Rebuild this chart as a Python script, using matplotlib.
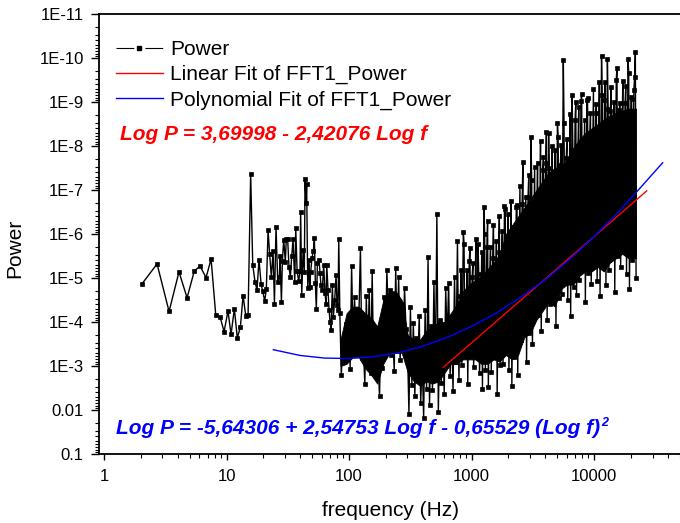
import numpy as np
import matplotlib
matplotlib.use('Agg')
import matplotlib.pyplot as plt
from matplotlib.lines import Line2D
from matplotlib.ticker import LogLocator, NullFormatter

plt.rcParams['font.family'] = ['Liberation Sans', 'DejaVu Sans']

# Power spectrum, low frequency part (log10 f, log10 P) read point by point
sparse_logf = [0.308, 0.433, 0.531, 0.612, 0.678, 0.737, 0.784, 0.833, 0.874, 0.912,
               0.947, 0.980, 1.012, 1.037, 1.064, 1.088, 1.113, 1.135, 1.157, 1.176,
               1.197, 1.214, 1.233, 1.249, 1.265, 1.282, 1.295, 1.312, 1.325, 1.339,
               1.352, 1.366, 1.380, 1.391, 1.404, 1.418, 1.431, 1.437, 1.448, 1.456,
               1.467, 1.480, 1.488, 1.499, 1.510, 1.521, 1.532, 1.543, 1.557, 1.565,
               1.576, 1.589, 1.600, 1.605, 1.614, 1.625, 1.635, 1.641, 1.649, 1.654,
               1.663, 1.674, 1.679, 1.687, 1.698, 1.709, 1.717, 1.725, 1.733, 1.742,
               1.755, 1.763, 1.771, 1.782, 1.793, 1.804, 1.812, 1.818, 1.829, 1.837,
               1.845, 1.853, 1.864, 1.872, 1.883, 1.894, 1.902, 1.910, 1.916]
sparse_logp = [-4.86, -5.32, -4.24, -5.14, -4.55, -5.16, -5.27, -5.01, -5.43, -4.16,
               -4.12, -3.78, -4.25, -3.72, -4.30, -3.64, -3.88, -4.60, -4.14, -4.17,
               -7.36, -5.30, -4.90, -4.73, -5.42, -4.87, -4.70, -4.48, -4.75, -6.09,
               -5.54, -5.02, -5.61, -4.41, -6.17, -4.90, -5.02, -5.49, -4.46, -5.39,
               -5.87, -5.37, -5.89, -5.89, -5.24, -5.02, -5.49, -5.88, -4.90, -6.14,
               -5.15, -4.93, -5.16, -6.51, -4.61, -5.64, -5.14, -7.24, -6.71, -7.13,
               -4.77, -5.42, -4.80, -5.14, -5.46, -5.62, -5.92, -4.88, -4.29, -5.35,
               -5.41, -5.11, -4.84, -4.73, -5.30, -4.65, -4.42, -5.30, -4.73, -4.27,
               -4.01, -3.82, -4.84, -4.12, -4.50, -5.07, -4.39, -4.27, -5.89]

# dense band above ~85 Hz (log10 f, log10 P), top / bottom excursions
band_logf = [1.925, 1.937, 1.949, 1.961, 1.973, 1.985, 1.997, 2.009, 2.021, 2.033,
             2.045, 2.057, 2.069, 2.081, 2.093, 2.105, 2.117, 2.129, 2.141, 2.153,
             2.165, 2.177, 2.189, 2.201, 2.213, 2.225, 2.237, 2.249, 2.261, 2.273,
             2.285, 2.297, 2.309, 2.321, 2.333, 2.345, 2.357, 2.369, 2.381, 2.393,
             2.405, 2.417, 2.429, 2.441, 2.453, 2.465, 2.477, 2.489, 2.501, 2.513,
             2.525, 2.537, 2.549, 2.561, 2.573, 2.585, 2.597, 2.609, 2.621, 2.633,
             2.645, 2.657, 2.669, 2.681, 2.693, 2.705, 2.717, 2.729, 2.741, 2.753,
             2.765, 2.777, 2.789, 2.801, 2.813, 2.825, 2.837, 2.849, 2.861, 2.873,
             2.885, 2.897, 2.909, 2.921, 2.933, 2.945, 2.957, 2.969, 2.981, 2.993,
             3.005, 3.017, 3.029, 3.041, 3.053, 3.065, 3.077, 3.089, 3.101, 3.113,
             3.125, 3.137, 3.149, 3.161, 3.173, 3.185, 3.197, 3.209, 3.221, 3.233,
             3.245, 3.257, 3.269, 3.281, 3.293, 3.305, 3.317, 3.329, 3.341, 3.353,
             3.365, 3.377, 3.389, 3.401, 3.413, 3.425, 3.437, 3.449, 3.461, 3.473,
             3.485, 3.497, 3.509, 3.521, 3.533, 3.545, 3.557, 3.569, 3.581, 3.593,
             3.605, 3.617, 3.629, 3.641, 3.653, 3.665, 3.677, 3.689, 3.701, 3.713,
             3.725, 3.737, 3.749, 3.761, 3.773, 3.785, 3.797, 3.809, 3.821, 3.833,
             3.845, 3.857, 3.869, 3.881, 3.893, 3.905, 3.917, 3.929, 3.941, 3.953,
             3.965, 3.977, 3.989, 4.001, 4.013, 4.025, 4.037, 4.049, 4.061, 4.073,
             4.085, 4.097, 4.109, 4.121, 4.133, 4.145, 4.157, 4.169, 4.181, 4.193,
             4.205, 4.217, 4.229, 4.241, 4.253, 4.265, 4.277, 4.289, 4.301, 4.313,
             4.325, 4.337, 4.343]
band_logp = [-4.20, -2.80, -3.60, -3.15, -3.95, -3.79, -4.02, -2.94, -5.27, -3.59,
             -4.57, -3.34, -4.22, -4.19, -5.68, -3.19, -3.43, -2.59, -4.58, -3.24,
             -4.73, -2.84, -5.16, -2.81, -3.86, -3.16, -3.11, -2.31, -4.01, -2.96,
             -4.57, -3.39, -5.18, -4.04, -4.72, -3.24, -3.72, -2.89, -5.23, -3.54,
             -5.02, -3.14, -4.42, -3.49, -4.77, -3.84, -3.43, -1.92, -4.33, -2.57,
             -3.98, -2.32, -3.63, -2.97, -4.13, -2.17, -3.13, -1.82, -4.28, -2.47,
             -5.48, -2.11, -3.90, -2.46, -4.91, -2.81, -6.45, -1.96, -4.05, -2.61,
             -3.70, -2.36, -4.77, -3.58, -4.88, -2.78, -3.88, -2.43, -5.03, -3.08,
             -5.84, -2.68, -4.58, -3.03, -6.05, -3.43, -4.48, -2.58, -5.38, -3.23,
             -5.03, -2.98, -4.68, -3.63, -5.77, -2.83, -4.18, -2.48, -6.61, -2.92,
             -5.70, -2.52, -5.10, -2.87, -5.45, -3.22, -4.70, -2.37, -5.60, -3.02,
             -5.25, -3.05, -6.64, -3.70, -5.86, -2.90, -4.86, -2.55, -6.01, -3.20,
             -6.61, -2.80, -5.56, -3.60, -6.68, -3.95, -5.93, -3.10, -6.83, -3.75,
             -8.20, -3.50, -6.13, -4.15, -6.63, -4.15, -6.31, -3.80, -7.46, -4.45,
             -7.61, -4.05, -8.30, -4.40, -7.36, -4.75, -6.61, -3.90, -8.52, -4.55,
             -7.57, -4.64, -9.95, -5.29, -7.72, -4.49, -6.72, -4.14, -9.16, -4.79,
             -8.59, -4.61, -7.99, -4.96, -9.02, -5.31, -7.59, -4.46, -9.05, -5.11,
             -8.14, -4.86, -7.79, -5.51, -8.75, -4.94, -7.75, -4.59, -10.05, -5.24,
             -9.05, -4.84, -9.98, -5.19, -8.80, -5.54, -8.05, -4.69, -9.50, -5.50,
             -8.82, -5.25, -8.47, -5.90, -8.97, -5.10, -9.98, -4.75, -9.12, -5.40,
             -9.27, -10.14, -5.00]

# extra spike tips along the upper edge above 800 Hz
tips_logf = [2.915, 2.939, 2.963, 2.987, 3.011, 3.035, 3.059, 3.083, 3.107, 3.131,
             3.155, 3.179, 3.203, 3.227, 3.251, 3.275, 3.299, 3.323, 3.347, 3.371,
             3.395, 3.419, 3.443, 3.467, 3.491, 3.515, 3.539, 3.563, 3.587, 3.611,
             3.635, 3.659, 3.683, 3.707, 3.731, 3.755, 3.779, 3.803, 3.827, 3.851,
             3.875, 3.899, 3.923, 3.947, 3.971, 3.995, 4.019, 4.043, 4.067, 4.091,
             4.115, 4.139, 4.163, 4.187, 4.211, 4.235, 4.259, 4.283, 4.307, 4.331]
tips_logp = [-5.18, -5.78, -5.18, -5.68, -5.33, -5.88, -5.08, -5.58, -6.00, -6.30,
             -5.70, -6.20, -5.85, -6.40, -6.06, -6.56, -6.46, -6.76, -6.16, -6.66,
             -7.08, -7.63, -6.83, -7.33, -7.23, -7.53, -7.61, -8.11, -7.76, -8.31,
             -7.51, -8.01, -7.91, -8.21, -8.02, -8.52, -8.17, -8.72, -7.92, -8.99,
             -8.89, -9.19, -8.59, -9.09, -8.74, -9.29, -8.95, -9.45, -9.15, -9.45,
             -8.85, -9.35, -9.00, -9.77, -8.97, -9.47, -9.37, -9.67, -9.07, -9.57]

# where the band is solid black (log10 f, upper and lower edge in log10 P)
env_logf = [1.93, 1.98, 2.03, 2.08, 2.13, 2.18, 2.23, 2.28, 2.33, 2.38,
            2.43, 2.48, 2.53, 2.58, 2.63, 2.68, 2.73, 2.78, 2.83, 2.88,
            2.93, 2.98, 3.03, 3.08, 3.13, 3.18, 3.23, 3.28, 3.33, 3.38,
            3.43, 3.48, 3.53, 3.58, 3.63, 3.68, 3.73, 3.78, 3.83, 3.88,
            3.93, 3.98, 4.03, 4.08, 4.13, 4.18, 4.23, 4.28, 4.343]
env_top = [-3.6, -4.2, -4.35, -4.35, -4.2, -4.1, -3.9, -4.5, -4.7, -4.7,
           -4.5, -3.7, -3.6, -3.6, -3.8, -3.9, -4.0, -4.0, -4.2, -4.4,
           -4.7, -4.85, -4.95, -5.05, -5.2, -5.35, -5.55, -6.0, -6.2, -6.4,
           -6.6, -6.8, -7.0, -7.2, -7.4, -7.5, -7.55, -7.7, -7.95, -8.15,
           -8.3, -8.4, -8.5, -8.6, -8.7, -8.75, -8.8, -8.85, -8.85]
env_bot = [-3.0, -3.05, -3.2, -3.2, -2.95, -2.8, -2.6, -3.05, -3.3, -3.3,
           -3.3, -2.85, -2.65, -2.55, -2.65, -2.6, -2.65, -2.85, -3.05, -3.05,
           -3.15, -3.15, -3.15, -3.05, -3.05, -3.15, -3.1, -3.25, -3.15, -3.25,
           -3.65, -3.75, -4.05, -4.25, -4.45, -4.35, -4.75, -4.85, -4.85, -5.05,
           -5.15, -5.15, -5.25, -5.15, -5.35, -5.45, -5.55, -5.45, -5.45]

# fit curves (log10 f, log10 P)
lin_logf = [2.770, 4.430]
lin_logp = [-2.97, -6.98]
poly_logf = [1.382, 1.6, 1.8, 2.0, 2.2, 2.4, 2.6, 2.8, 3.0, 3.2, 3.4, 3.6, 3.8,
             4.0, 4.2, 4.4, 4.56]
poly_logp = [-3.37, -3.24, -3.18, -3.17, -3.21, -3.30, -3.45, -3.65, -3.90, -4.20,
             -4.56, -4.96, -5.42, -5.94, -6.50, -7.12, -7.62]

xtick_vals = [1, 10, 100, 1000, 10000]
xtick_labels = ['1', '10', '100', '1000', '10000']
ytick_vals = [1e-11, 1e-10, 1e-9, 1e-8, 1e-7, 1e-6, 1e-5, 1e-4, 1e-3, 1e-2, 1e-1]
ytick_labels = ['1E-11', '1E-10', '1E-9', '1E-8', '1E-7', '1E-6', '1E-5', '1E-4',
                '1E-3', '0.01', '0.1']

fig = plt.figure(figsize=(6.8, 5.23), dpi=100)
ax = fig.add_axes([99 / 680, 69 / 523, 581 / 680, 440 / 523])

# solid part of the band, then the spiky trace on top
ax.fill_between(10 ** np.array(env_logf), 10 ** np.array(env_top), 10 ** np.array(env_bot),
                color='k', lw=0.6, zorder=1)
hi_logf = np.concatenate([band_logf, tips_logf])
hi_logp = np.concatenate([band_logp, tips_logp])
order = np.argsort(hi_logf)
f_pow = 10 ** np.concatenate([sparse_logf, hi_logf[order]])
p_pow = 10 ** np.concatenate([sparse_logp, hi_logp[order]])
ax.plot(f_pow, p_pow, color='k', lw=1.0, marker='s', ms=2.8, mfc='k', mec='k', mew=0.5,
        zorder=2)
ax.plot(10 ** np.array(lin_logf), 10 ** np.array(lin_logp), color='#ff0000', lw=1.0, zorder=3)
ax.plot(10 ** np.array(poly_logf), 10 ** np.array(poly_logp), color='#0000ff', lw=1.0, zorder=3)

ax.set_xscale('log')
ax.set_yscale('log')
ax.set_xlim(0.91, 5.03e4)
ax.set_ylim(0.1, 1e-11)

ax.set_xticks(xtick_vals, xtick_labels)
ax.set_yticks(ytick_vals, ytick_labels)
ax.xaxis.set_minor_locator(LogLocator(base=10, subs=np.arange(2, 10), numticks=100))
ax.yaxis.set_minor_locator(LogLocator(base=10, subs=np.arange(2, 10), numticks=100))
ax.xaxis.set_minor_formatter(NullFormatter())
ax.yaxis.set_minor_formatter(NullFormatter())
ax.tick_params(which='both', direction='out', top=False, right=False, labelsize=12, width=1.0)
ax.tick_params(axis='x', which='major', length=4.5, pad=6)
ax.tick_params(axis='y', which='major', length=6, pad=5)
ax.tick_params(which='minor', length=3, width=0.8)
ax.spines['right'].set_visible(False)
for s in ['left', 'bottom', 'top']:
    ax.spines[s].set_linewidth(1.3)

# legend
h_pow = Line2D([], [], color='k', lw=0.8, linestyle=(0, (16, 10)), marker='s', ms=3)
h_lin = Line2D([], [], color='#ff0000', lw=1.0)
h_poly = Line2D([], [], color='#0000ff', lw=1.0)
ax.legend([h_pow, h_lin, h_poly],
          ['Power', 'Linear Fit of FFT1_Power', 'Polynomial Fit of FFT1_Power'],
          loc='upper left', bbox_to_anchor=(116 / 680, 1 - 40 / 523),
          bbox_transform=fig.transFigure, frameon=False, fontsize=15,
          handlelength=2.25, handletextpad=0.35, labelspacing=0.29,
          borderpad=0, borderaxespad=0, numpoints=1)

# fit equations
fig.text(120 / 680, 1 - 135 / 523, 'Log P = 3,69998 - 2,42076 Log f', color='#ff0000',
         fontsize=15, fontweight='bold', fontstyle='italic', ha='left', va='center')
eq2 = fig.text(116 / 680, 1 - 428 / 523,
               'Log P = -5,64306 + 2,54753 Log f - 0,65529 (Log f)', color='#0000ff',
               fontsize=15, fontweight='bold', fontstyle='italic', ha='left', va='center')
ax.annotate('2', xy=(1, 1), xycoords=eq2, xytext=(1, 1), textcoords='offset points',
            fontsize=9, fontweight='bold', fontstyle='italic', color='#0000ff',
            ha='left', va='top')

# axis titles
fig.text(15 / 680, 1 - 248 / 523, 'Power', rotation=90, fontsize=15, ha='center', va='center')
fig.text(390 / 680, 1 - 510 / 523, 'frequency (Hz)', fontsize=15, ha='center', va='center')

fig.savefig('out.png', dpi=100)
